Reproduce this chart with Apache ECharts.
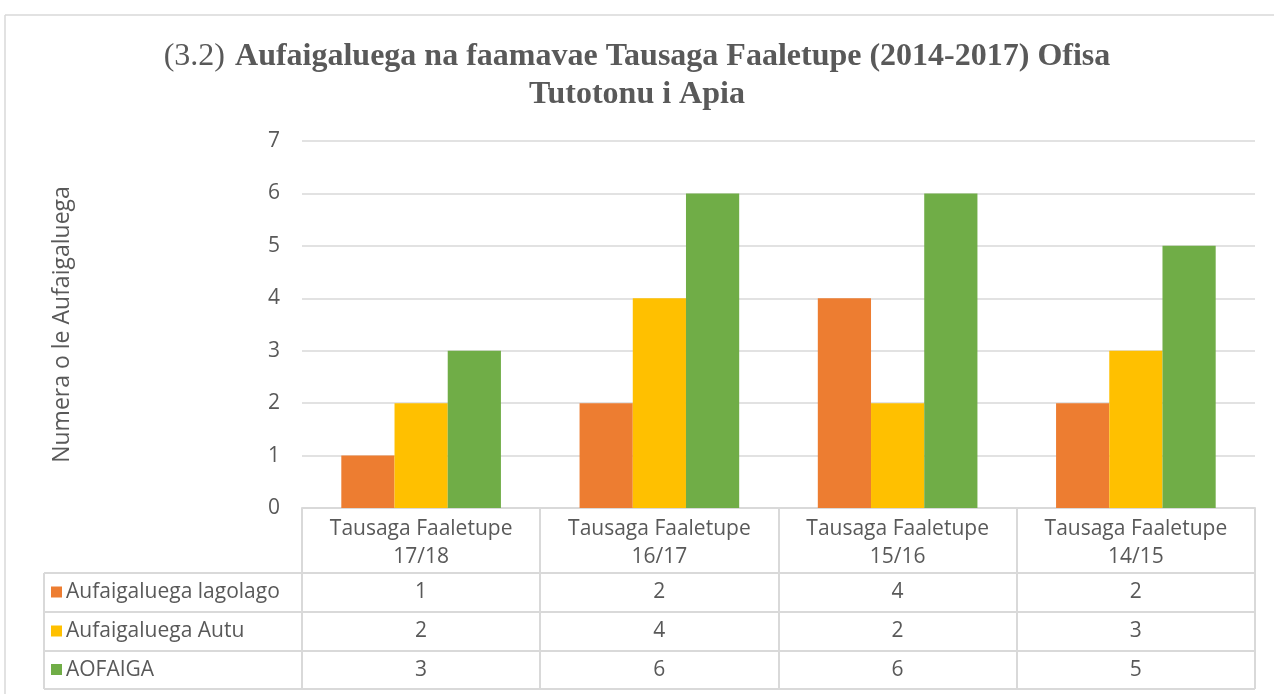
<!DOCTYPE html>
<html>
<head>
<meta charset="utf-8">
<script src="https://cdn.jsdelivr.net/npm/echarts@6/dist/echarts.min.js"></script>
<style>
  html, body { margin: 0; padding: 0; background: #fff; }
  #main { width: 1274px; height: 694px; }
</style>
</head>
<body>
<div id="main"></div>
<script>
var categories = ['Tausaga Faaletupe\n17/18', 'Tausaga Faaletupe\n16/17', 'Tausaga Faaletupe\n15/16', 'Tausaga Faaletupe\n14/15'];
var seriesNames = ['Aufaigaluega lagolago', 'Aufaigaluega Autu', 'AOFAIGA'];
var lagolago = [1, 2, 4, 2];
var autu = [2, 4, 2, 3];
var aofaiga = [3, 6, 6, 5];
var yTicks = [0, 1, 2, 3, 4, 5, 6, 7];

var colors = ['#ED7D31', '#FFC000', '#70AD47'];
var textColor = '#595959';
var lineColor = '#d9d9d9';
var font = 'Open Sans';
var fs = 21;

// plot area
var gL = 302, gR = 1255, gT = 141, gB = 508;
// table rows
var rowY = [573, 612, 651, 689];
var tabL = 44;

var allSeries = [lagolago, autu, aofaiga];
var graphics = [];

// chart border
graphics.push({ type: 'line', shape: { x1: 5, y1: 15, x2: 1274, y2: 15 }, style: { stroke: lineColor, lineWidth: 1.5 } });
graphics.push({ type: 'line', shape: { x1: 5, y1: 15, x2: 5, y2: 694 }, style: { stroke: lineColor, lineWidth: 1.5 } });

var cw = (gR - gL) / categories.length;
// vertical lines of the table
for (var i = 0; i <= categories.length; i++) {
    var x = Math.round(gL + i * cw);
    graphics.push({ type: 'line', shape: { x1: x, y1: gB, x2: x, y2: rowY[3] }, style: { stroke: lineColor, lineWidth: 2 } });
}
graphics.push({ type: 'line', shape: { x1: tabL, y1: rowY[0], x2: tabL, y2: rowY[3] }, style: { stroke: lineColor, lineWidth: 2 } });
// horizontal lines
for (var r = 0; r < rowY.length; r++) {
    graphics.push({ type: 'line', shape: { x1: tabL, y1: rowY[r], x2: gR, y2: rowY[r] }, style: { stroke: lineColor, lineWidth: 2 } });
}
// row labels and values
for (var s = 0; s < allSeries.length; s++) {
    var cy = (rowY[s] + rowY[s + 1]) / 2;
    graphics.push({ type: 'rect', shape: { x: 51, y: cy - 6, width: 11, height: 11 }, style: { fill: colors[s] } });
    graphics.push({
        type: 'text', x: 66, y: cy,
        style: { text: seriesNames[s], fill: textColor, font: fs + 'px ' + font, verticalAlign: 'middle', align: 'left' }
    });
    for (var c = 0; c < categories.length; c++) {
        graphics.push({
            type: 'text', x: gL + (c + 0.5) * cw, y: cy,
            style: { text: String(allSeries[s][c]), fill: textColor, font: fs + 'px ' + font, verticalAlign: 'middle', align: 'center' }
        });
    }
}

var chart = echarts.init(document.getElementById('main'));
chart.setOption({
    animation: false,
    title: {
        text: '{n|(3.2)}  {b|Aufaigaluega na faamavae Tausaga Faaletupe (2014-2017) Ofisa}\n{b|Tutotonu i Apia}',
        left: 'center',
        top: 33,
        textStyle: {
            rich: {
                n: { fontFamily: 'Liberation Serif', fontSize: 32, fontWeight: 'normal', color: textColor, lineHeight: 38 },
                b: { fontFamily: 'Liberation Serif', fontSize: 32, fontWeight: 'bold', color: textColor, lineHeight: 38 }
            }
        }
    },
    grid: { left: gL, right: 1274 - gR, top: gT, bottom: 694 - gB, containLabel: false },
    xAxis: {
        type: 'category',
        data: categories,
        axisLine: { lineStyle: { color: lineColor, width: 2 } },
        axisTick: { show: false },
        axisLabel: { color: textColor, fontFamily: font, fontSize: fs, lineHeight: 28, margin: 7, interval: 0 }
    },
    yAxis: {
        type: 'value',
        min: yTicks[0],
        max: yTicks[yTicks.length - 1],
        interval: 1,
        name: 'Numera o le Aufaigaluega',
        nameLocation: 'middle',
        nameGap: 228,
        nameTextStyle: { color: textColor, fontFamily: font, fontSize: 23 },
        axisLine: { show: false },
        axisTick: { show: false },
        axisLabel: { color: textColor, fontFamily: font, fontSize: fs, margin: 22 },
        splitLine: { lineStyle: { color: lineColor, width: 1.5 } }
    },
    series: allSeries.map(function (d, i) {
        return {
            name: seriesNames[i],
            type: 'bar',
            data: d,
            barGap: '0%',
            barCategoryGap: '33%',
            itemStyle: { color: colors[i] }
        };
    }),
    graphic: graphics
});
</script>
</body>
</html>
